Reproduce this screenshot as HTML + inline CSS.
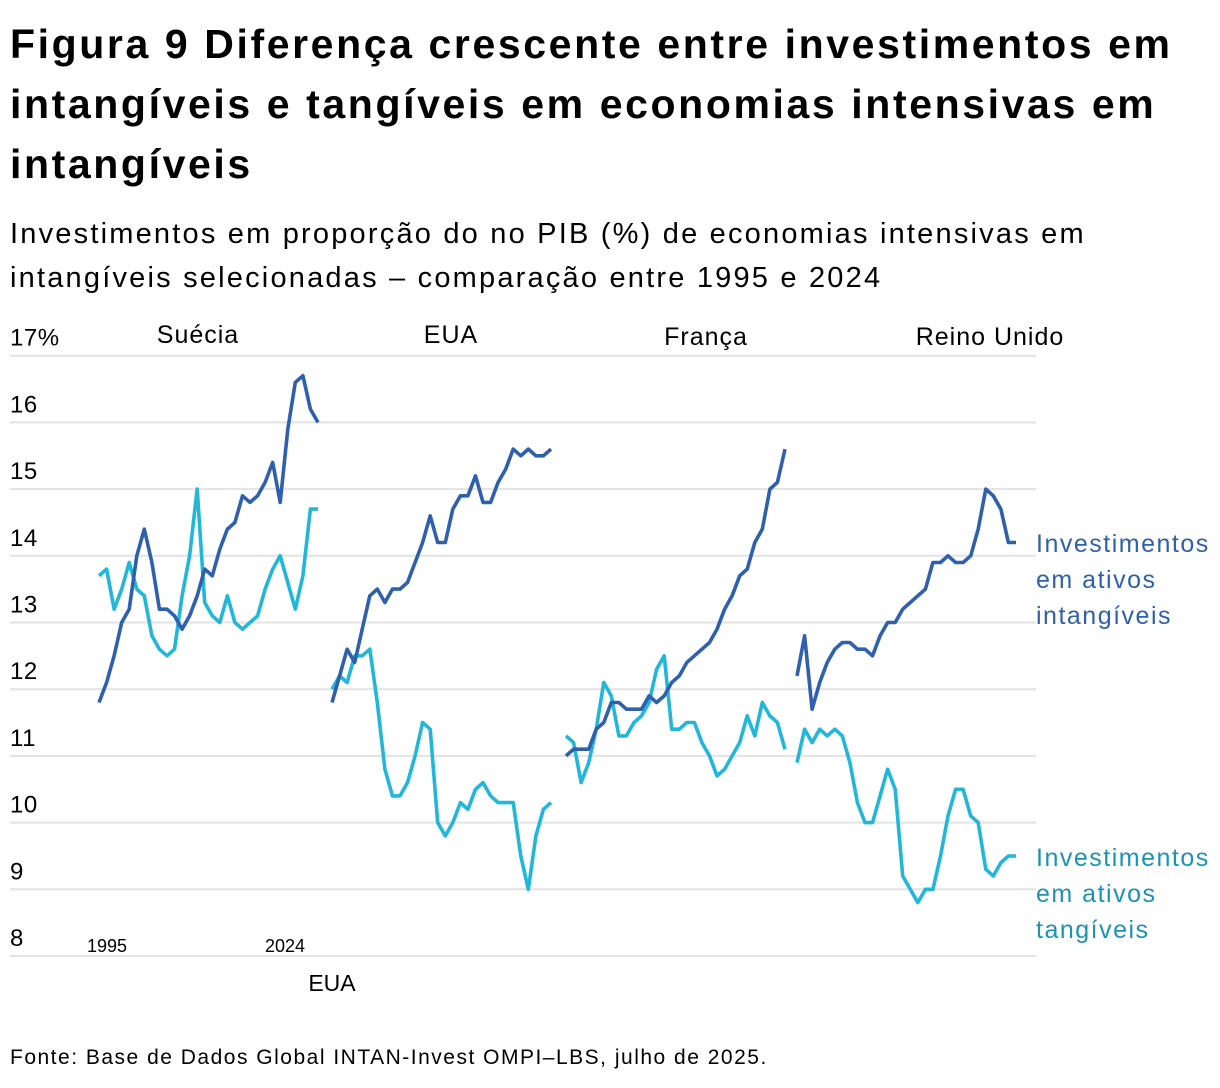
<!DOCTYPE html>
<html><head><meta charset="utf-8">
<style>
body{margin:0;background:#fff;font-family:"Liberation Sans","DejaVu Sans",sans-serif;color:#000;}
#wrap{position:relative;width:1220px;height:1088px;overflow:hidden;}
h1{position:absolute;left:10px;top:14px;margin:0;font-size:41px;line-height:60px;font-weight:bold;width:1210px;letter-spacing:2.6px;}
.sub{position:absolute;left:10px;top:212px;font-size:29px;line-height:44px;width:1210px;letter-spacing:2.2px;white-space:nowrap;}
.src{position:absolute;left:10px;top:1046px;font-size:21px;letter-spacing:1.5px;}
svg{position:absolute;left:0;top:0;}
</style></head><body>
<div id="wrap">
<h1>Figura 9 Diferença crescente entre investimentos em intangíveis e tangíveis em economias intensivas em intangíveis</h1>
<div class="sub">Investimentos em proporção do no PIB (%) de economias intensivas em<br>intangíveis selecionadas – comparação entre 1995 e 2024</div>
<svg id="chart" width="1220" height="1088"></svg>
<div class="src">Fonte: Base de Dados Global INTAN-Invest OMPI–LBS, julho de 2025.</div>
</div>
<script>
const yTicks = [8,9,10,11,12,13,14,15,16,17];
const yTickLabels = ["8","9","10","11","12","13","14","15","16","17%"];
const countries = ["Suécia","EUA","França","Reino Unido"];
const sweIntang = [11.8,12.1,12.5,13.0,13.2,14.0,14.4,13.9,13.2,13.2,13.1,12.9,13.1,13.4,13.8,13.7,14.1,14.4,14.5,14.9,14.8,14.9,15.1,15.4,14.8,15.9,16.6,16.7,16.2,16.0];
const sweTang = [13.7,13.8,13.2,13.5,13.9,13.5,13.4,12.8,12.6,12.5,12.6,13.4,14.0,15.0,13.3,13.1,13.0,13.4,13.0,12.9,13.0,13.1,13.5,13.8,14.0,13.6,13.2,13.7,14.7,14.7];
const usaIntang = [11.8,12.2,12.6,12.4,12.9,13.4,13.5,13.3,13.5,13.5,13.6,13.9,14.2,14.6,14.2,14.2,14.7,14.9,14.9,15.2,14.8,14.8,15.1,15.3,15.6,15.5,15.6,15.5,15.5,15.6];
const usaTang = [12.0,12.2,12.1,12.5,12.5,12.6,11.8,10.8,10.4,10.4,10.6,11.0,11.5,11.4,10.0,9.8,10.0,10.3,10.2,10.5,10.6,10.4,10.3,10.3,10.3,9.5,9.0,9.8,10.2,10.3];
const fraIntang = [11.0,11.1,11.1,11.1,11.4,11.5,11.8,11.8,11.7,11.7,11.7,11.9,11.8,11.9,12.1,12.2,12.4,12.5,12.6,12.7,12.9,13.2,13.4,13.7,13.8,14.2,14.4,15.0,15.1,15.6];
const fraTang = [11.3,11.2,10.6,10.9,11.4,12.1,11.9,11.3,11.3,11.5,11.6,11.8,12.3,12.5,11.4,11.4,11.5,11.5,11.2,11.0,10.7,10.8,11.0,11.2,11.6,11.3,11.8,11.6,11.5,11.1];
const ukIntang = [12.2,12.8,11.7,12.1,12.4,12.6,12.7,12.7,12.6,12.6,12.5,12.8,13.0,13.0,13.2,13.3,13.4,13.5,13.9,13.9,14.0,13.9,13.9,14.0,14.4,15.0,14.9,14.7,14.2,14.2];
const ukTang = [10.9,11.4,11.2,11.4,11.3,11.4,11.3,10.9,10.3,10.0,10.0,10.4,10.8,10.5,9.2,9.0,8.8,9.0,9.0,9.5,10.1,10.5,10.5,10.1,10.0,9.3,9.2,9.4,9.5,9.5];
const intangSeries = [sweIntang,usaIntang,fraIntang,ukIntang];
const tangSeries = [sweTang,usaTang,fraTang,ukTang];

const NS="http://www.w3.org/2000/svg";
const svg=document.getElementById('chart');
const y0=956, yUnit=66.7;
function yScale(v){return y0-(v-8)*yUnit;}
const panelStarts=[99,332,566,797], panelWidth=219;
function xScale(p,i,n){return panelStarts[p]+i*panelWidth/(n-1);}
function mk(tag,attrs){const e=document.createElementNS(NS,tag);for(const k in attrs)e.setAttribute(k,attrs[k]);svg.appendChild(e);return e;}
function txt(x,y,s,size,fill,anchor,ls){const t=mk('text',{x:x,y:y,'font-size':size,fill:fill||'#000','text-anchor':anchor||'start','letter-spacing':ls||0,'font-family':'Liberation Sans, DejaVu Sans, sans-serif'});t.textContent=s;return t;}

yTicks.forEach((v,i)=>{
  const l=mk('line',{x1:10,x2:1036,y1:yScale(v),y2:yScale(v),stroke:'#e3e3e3','stroke-width':2});
  
  
  const t=txt(10,yScale(v)-10,yTickLabels[i],24,'#000','start',0.5);
  
  
});
const titleX=[198,451,706,990], titleY=[343,343,345,345];
countries.forEach((c,i)=>{
  const t=txt(titleX[i],titleY[i],c,25,'#000','middle',1);
  
  
});
let t=txt(107,952,'1995',18,'#000','middle');


t=txt(285,952,'2024',18,'#000','middle');


t=txt(332,991,'EUA',23,'#000','middle');



function drawLine(p,data,color,name){
  const pts=data.map((v,i)=>xScale(p,i,data.length).toFixed(1)+','+yScale(v).toFixed(1)).join(' ');
  const pl=mk('polyline',{points:pts,fill:'none',stroke:color,'stroke-width':3.6,'stroke-linejoin':'round'});
  
  
}
for(let p=0;p<4;p++){
  drawLine(p,tangSeries[p],'#22b6d8','tangible-line');
  drawLine(p,intangSeries[p],'#2f60ad','intangible-line');
}
const lg1=['Investimentos','em ativos','intangíveis'], lg2=['Investimentos','em ativos','tangíveis'];
lg1.forEach((s,i)=>{const e=txt(1036,552+i*36,s,25,'#2f60ad','start',1.5);});
lg2.forEach((s,i)=>{const e=txt(1036,866+i*36,s,25,'#1a93b5','start',1.5);});
</script>
</body></html>
